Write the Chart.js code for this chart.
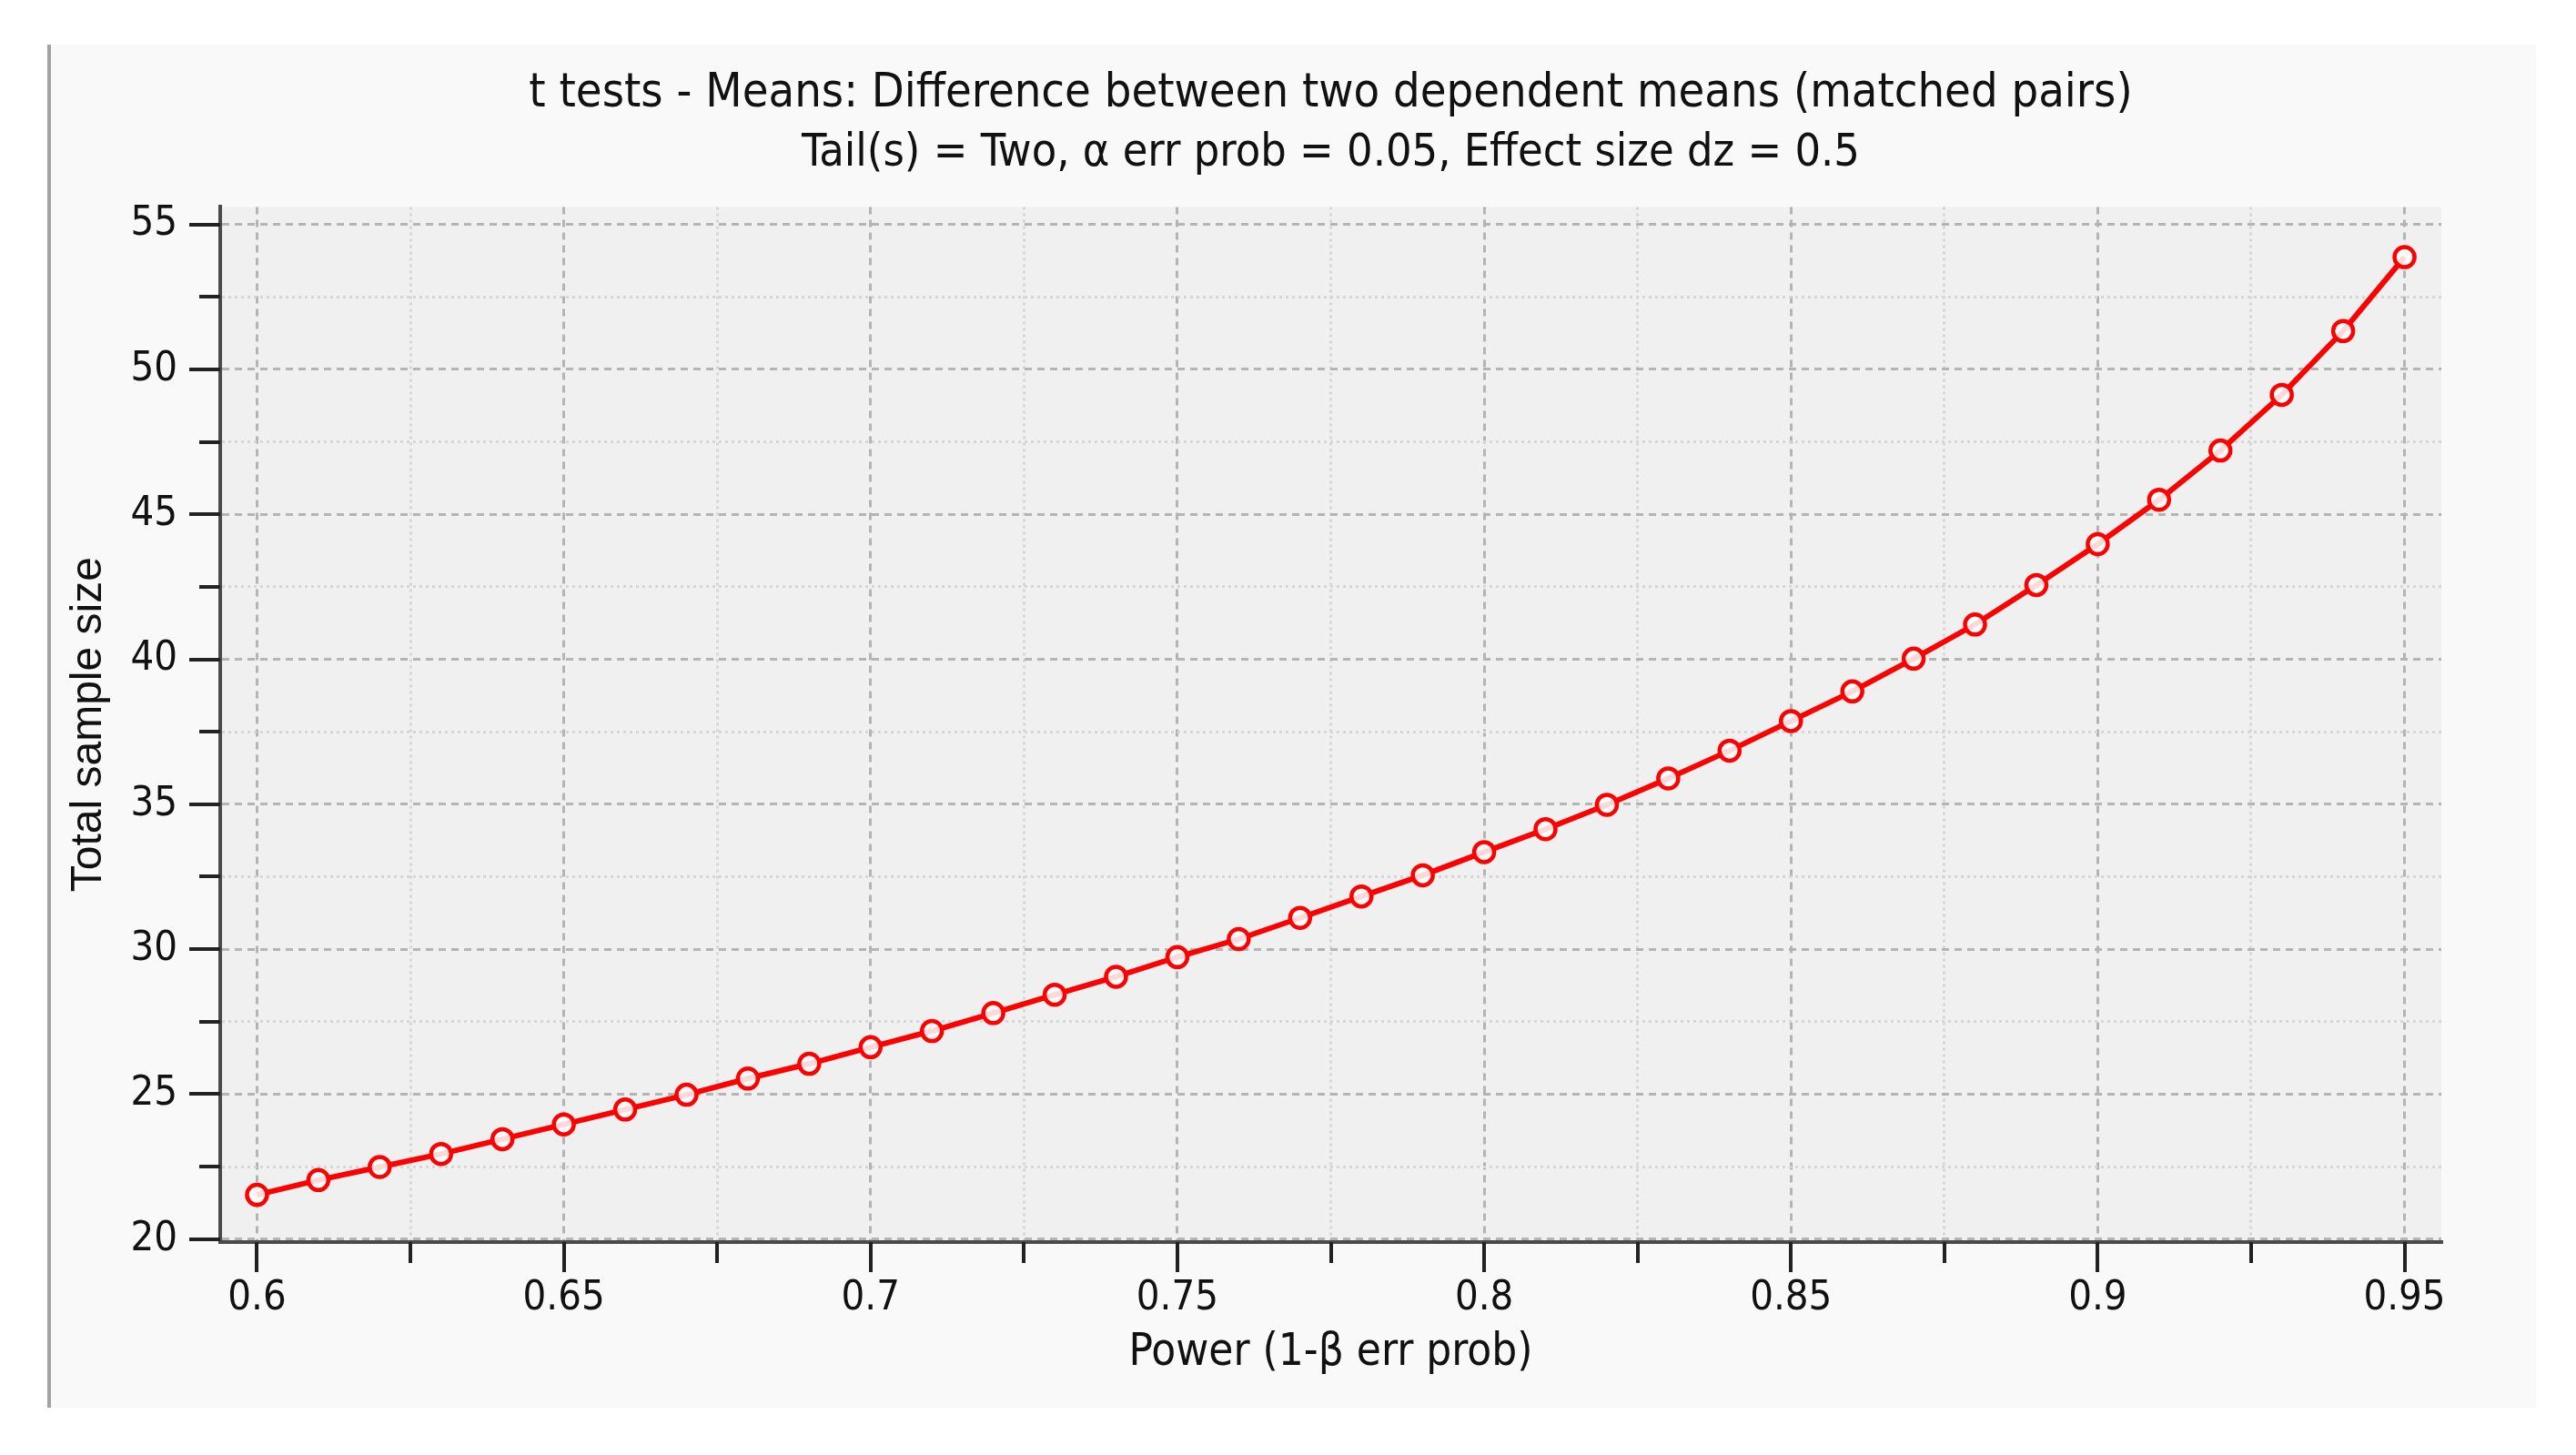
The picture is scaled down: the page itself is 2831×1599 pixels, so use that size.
<!DOCTYPE html>
<html>
<head>
<meta charset="utf-8">
<title>t tests - Means: power plot</title>
<script src="https://cdn.jsdelivr.net/npm/chart.js@4.4.1/dist/chart.umd.min.js"></script>
<style>
  html, body { margin: 0; padding: 0; background: #ffffff; overflow: hidden; }
  #panel {
    position: absolute; left: 52px; top: 49px; width: 2735px; height: 1498px;
    background: #f9f9f9; border-left: 4px solid #a2a2a2; box-sizing: border-box;
  }
  #wrap { position: absolute; left: 0; top: 0; width: 2831px; height: 1599px; }
</style>
</head>
<body>
<div id="panel"></div>
<div id="wrap"><canvas id="powerChart" width="2831" height="1599"></canvas></div>
<script>
// Power (1-β err prob) on x, total sample size on y
const power = [
  0.60, 0.61, 0.62, 0.63, 0.64, 0.65, 0.66, 0.67, 0.68, 0.69,
  0.70, 0.71, 0.72, 0.73, 0.74, 0.75, 0.76, 0.77, 0.78, 0.79,
  0.80, 0.81, 0.82, 0.83, 0.84, 0.85, 0.86, 0.87, 0.88, 0.89,
  0.90, 0.91, 0.92, 0.93, 0.94, 0.95,
];
const sampleSize = [
  21.53, 22.04, 22.49, 22.94, 23.45, 23.96, 24.47, 24.98, 25.54, 26.05,
  26.62, 27.18, 27.80, 28.43, 29.05, 29.73, 30.35, 31.08, 31.82, 32.55,
  33.35, 34.14, 34.98, 35.89, 36.85, 37.87, 38.89, 40.02, 41.20, 42.56,
  43.97, 45.50, 47.20, 49.12, 51.32, 53.87,
];

// tick values and labels
const xMajor = [0.6, 0.65, 0.7, 0.75, 0.8, 0.85, 0.9, 0.95];
const xLabels = ["0.6", "0.65", "0.7", "0.75", "0.8", "0.85", "0.9", "0.95"];
const xMinor = [0.625, 0.675, 0.725, 0.775, 0.825, 0.875, 0.925];
const yMajor = [20, 25, 30, 35, 40, 45, 50, 55];
const yLabels = ["20", "25", "30", "35", "40", "45", "50", "55"];
const yMinor = [22.5, 27.5, 32.5, 37.5, 42.5, 47.5, 52.5];

const titleText = "t tests - Means: Difference between two dependent means (matched pairs)";
const subtitleText = "Tail(s) = Two, \u03b1 err prob = 0.05, Effect size dz = 0.5";
const xTitle = "Power (1-\u03b2 err prob)";
const yTitle = "Total sample size";

const uiFont = "'DejaVu Sans Condensed', 'Liberation Sans Narrow', 'DejaVu Sans', sans-serif";
const textColor = "#111111";

function majorIndex(list, v) {
  return list.findIndex((m) => Math.abs(m - v) < 1e-9);
}
function isMajor(list, ctx) {
  return ctx && ctx.tick ? majorIndex(list, ctx.tick.value) >= 0 : true;
}

// grey plot background
const plotBackground = {
  id: "plotBackground",
  beforeDraw(chart) {
    const { ctx, chartArea: a } = chart;
    ctx.save();
    ctx.fillStyle = "#f0f0f0";
    ctx.fillRect(a.left, a.top, a.right - a.left, a.bottom - a.top);
    ctx.restore();
  },
};

// outside tick marks, long for major, short for minor
const tickMarks = {
  id: "tickMarks",
  afterDraw(chart) {
    const { ctx, chartArea: a, scales } = chart;
    ctx.save();
    ctx.strokeStyle = "#222222";
    ctx.lineWidth = 4;
    ctx.beginPath();
    scales.x.ticks.forEach((t) => {
      const px = Math.round(scales.x.getPixelForValue(t.value));
      const len = majorIndex(xMajor, t.value) >= 0 ? 33 : 23;
      ctx.moveTo(px, a.bottom);
      ctx.lineTo(px, a.bottom + len);
    });
    scales.y.ticks.forEach((t) => {
      const py = Math.round(scales.y.getPixelForValue(t.value));
      const len = majorIndex(yMajor, t.value) >= 0 ? 34 : 23;
      ctx.moveTo(a.left, py);
      ctx.lineTo(a.left - len, py);
    });
    ctx.stroke();
    ctx.restore();
  },
};

const points = power.map((p, i) => ({ x: p, y: sampleSize[i] }));

new Chart(document.getElementById("powerChart"), {
  type: "line",
  data: {
    datasets: [
      {
        label: yTitle,
        data: points,
        borderColor: "#ff0000",
        borderWidth: 6,
        tension: 0,
        pointRadius: 11,
        pointBorderWidth: 4.5,
        pointBorderColor: "#ff0000",
        pointBackgroundColor: "rgba(255,255,255,0.85)",
      },
    ],
  },
  plugins: [plotBackground, tickMarks],
  options: {
    responsive: false,
    animation: false,
    devicePixelRatio: 1,
    layout: { padding: { left: 0, right: 148, top: 0, bottom: 0 } },
    plugins: {
      legend: { display: false },
      tooltip: { enabled: false },
      title: {
        display: true,
        text: titleText,
        fullSize: false,
        color: textColor,
        font: { family: uiFont, size: 52, weight: "normal" },
        padding: { top: 72, bottom: 5 },
      },
      subtitle: {
        display: true,
        text: subtitleText,
        fullSize: false,
        color: textColor,
        font: { family: uiFont, size: 50, weight: "normal" },
        padding: { top: 0, bottom: 28 },
      },
    },
    scales: {
      x: {
        type: "linear",
        min: 0.594,
        max: 0.956,
        afterBuildTicks: (scale) => {
          scale.ticks = xMajor.concat(xMinor).sort((a, b) => a - b).map((v) => ({ value: v }));
        },
        afterFit: (scale) => {
          scale.height = 234;
        },
        ticks: {
          autoSkip: false,
          maxRotation: 0,
          padding: 35,
          color: textColor,
          font: { family: uiFont, size: 45 },
          callback: (v) => {
            const i = majorIndex(xMajor, v);
            return i >= 0 ? xLabels[i] : "";
          },
        },
        grid: {
          drawTicks: false,
          lineWidth: 3,
          color: (ctx) => (isMajor(xMajor, ctx) ? "#b4b4b4" : "#d6d6d6"),
        },
        border: {
          display: true,
          color: "#4a4a4a",
          width: 4,
          dash: (ctx) => (isMajor(xMajor, ctx) ? [8, 6] : [3, 4]),
        },
        title: {
          display: true,
          text: xTitle,
          color: textColor,
          font: { family: uiFont, size: 49 },
          padding: { top: 0, bottom: 82 },
        },
      },
      y: {
        type: "linear",
        min: 19.9,
        max: 55.6,
        afterBuildTicks: (scale) => {
          scale.ticks = yMajor.concat(yMinor).sort((a, b) => a - b).map((v) => ({ value: v }));
        },
        afterFit: (scale) => {
          scale.width = 242;
        },
        ticks: {
          autoSkip: false,
          padding: 47,
          color: textColor,
          font: { family: uiFont, size: 45 },
          callback: (v) => {
            const i = majorIndex(yMajor, v);
            return i >= 0 ? yLabels[i] : "";
          },
        },
        grid: {
          drawTicks: false,
          lineWidth: 3,
          color: (ctx) => (isMajor(yMajor, ctx) ? "#b4b4b4" : "#d6d6d6"),
        },
        border: {
          display: true,
          color: "#4a4a4a",
          width: 4,
          dash: (ctx) => (isMajor(yMajor, ctx) ? [8, 6] : [3, 4]),
        },
        title: {
          display: true,
          text: yTitle,
          color: textColor,
          font: { family: "'Liberation Sans', Arial, sans-serif", size: 48 },
          padding: { top: 69, bottom: 0 },
        },
      },
    },
  },
});
</script>
</body>
</html>
